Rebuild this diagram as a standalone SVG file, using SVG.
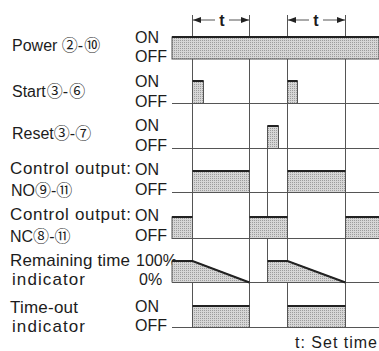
<svg xmlns="http://www.w3.org/2000/svg" width="379" height="351" viewBox="0 0 379 351">
<defs>
<pattern id="dots" width="2" height="2" patternUnits="userSpaceOnUse">
<rect width="2" height="2" fill="#d6d6d6"/>
<rect width="1" height="1" fill="#9c9c9c"/>
</pattern>
<marker id="ah" viewBox="0 0 8 6" refX="8" refY="3" markerWidth="8" markerHeight="6" orient="auto" markerUnits="userSpaceOnUse">
<path d="M0,0 L8,3 L0,6 z" fill="#222"/>
</marker>
</defs>
<style>
text{font-family:"Liberation Sans",Arial,sans-serif;font-size:16px;fill:#1c1c1c}
.L{font-size:17px}
.c{font-family:"Noto Sans CJK JP","DejaVu Sans",sans-serif;font-size:16px}
.thin{stroke:#555;stroke-width:1;fill:none}
.thick{stroke:#222;stroke-width:2;fill:none}
.sh{fill:url(#dots);stroke:#555;stroke-width:1}
</style>
<rect width="379" height="351" fill="#fff"/>

<g id="gridlines">
<path class="thin" d="M192.5,15V327M249.5,15V327M287.5,15V327M345.5,15V327M267.5,126V282"/>
<path class="thin" d="M172,103.5H379M172,148.5H379M172,192.5H379M172,238.5H379M172,282.5H379M172,327.5H379"/>
</g>

<g id="dimensions">
<path class="thin" d="M215,20H193" marker-end="url(#ah)"/>
<path class="thin" d="M229,20H249" marker-end="url(#ah)"/>
<text x="222" y="26" text-anchor="middle" font-size="17" font-weight="bold">t</text>
<path class="thin" d="M309,20H288" marker-end="url(#ah)"/>
<path class="thin" d="M323,20H345" marker-end="url(#ah)"/>
<text x="316" y="26" text-anchor="middle" font-size="17" font-weight="bold">t</text>
</g>

<g id="row-power">
<text x="12" y="51">Power <tspan class="c">②</tspan>-<tspan class="c" dx="1">⑩</tspan></text>
<text x="135" y="43">ON</text><text x="135" y="62">OFF</text>
<rect class="sh" x="172" y="37" width="207" height="22"/>
<path class="thick" d="M172,37H379"/>
</g>

<g id="row-start">
<text x="12" y="97">Start<tspan class="c" dx="1">③</tspan>-<tspan class="c" dx="1">⑥</tspan></text>
<text x="135" y="87">ON</text><text x="135" y="106.5">OFF</text>
<rect class="sh" x="192.5" y="81" width="11" height="22.5"/>
<rect class="sh" x="287.5" y="81" width="10" height="22.5"/>
<path class="thick" d="M192.5,81H203.5M287.5,81H297.5"/>
</g>

<g id="row-reset">
<text x="12" y="139">Reset<tspan class="c">③</tspan>-<tspan class="c">⑦</tspan></text>
<text x="135" y="131">ON</text><text x="135" y="151">OFF</text>
<rect class="sh" x="267.5" y="126" width="11" height="22.5"/>
<path class="thick" d="M267.5,126H278.5"/>
</g>

<g id="row-no">
<text class="L" x="10" y="173.5" textLength="121" lengthAdjust="spacing">Control output:</text>
<text x="11" y="196">NO<tspan class="c">⑨</tspan>-<tspan class="c">⑪</tspan></text>
<text x="135" y="174.5">ON</text><text x="135" y="195">OFF</text>
<rect class="sh" x="192.5" y="171" width="57" height="21.5"/>
<rect class="sh" x="287.5" y="171" width="58" height="21.5"/>
<path class="thick" d="M192.5,171H249.5M287.5,171H345.5"/>
</g>

<g id="row-nc">
<text class="L" x="10" y="219.5" textLength="121" lengthAdjust="spacing">Control output:</text>
<text x="10" y="242">NC<tspan class="c">⑧</tspan>-<tspan class="c">⑪</tspan></text>
<text x="135" y="220.5">ON</text><text x="135" y="241">OFF</text>
<rect class="sh" x="172" y="217" width="20.5" height="21.5"/>
<rect class="sh" x="249.5" y="217" width="38" height="21.5"/>
<rect class="sh" x="345.5" y="217" width="34" height="21.5"/>
<path class="thick" d="M172,217H192.5M249.5,217H287.5M345.5,217H379"/>
</g>

<g id="row-remaining">
<text class="L" x="10" y="266" textLength="120" lengthAdjust="spacing">Remaining time</text>
<text class="L" x="12" y="285" textLength="73" lengthAdjust="spacing">indicator</text>
<text x="136" y="266">100%</text><text x="139" y="285">0%</text>
<path class="sh" d="M172,261H192.5L249.5,282.5H172Z"/>
<path class="sh" d="M267.5,261H287.5L345.5,282.5H267.5Z"/>
<path class="thick" d="M172,261H192.5L249.5,282.5M267.5,261H287.5L345.5,282.5"/>
</g>

<g id="row-timeout">
<text class="L" x="10" y="313" textLength="68" lengthAdjust="spacing">Time-out</text>
<text class="L" x="12" y="332" textLength="73" lengthAdjust="spacing">indicator</text>
<text x="135" y="312">ON</text><text x="135" y="331">OFF</text>
<rect class="sh" x="192.5" y="306" width="57" height="21.5"/>
<rect class="sh" x="287.5" y="306" width="58" height="21.5"/>
<path class="thick" d="M192.5,306H249.5M287.5,306H345.5"/>
</g>

<text x="295" y="348" textLength="82" lengthAdjust="spacing">t: Set time</text>
</svg>
